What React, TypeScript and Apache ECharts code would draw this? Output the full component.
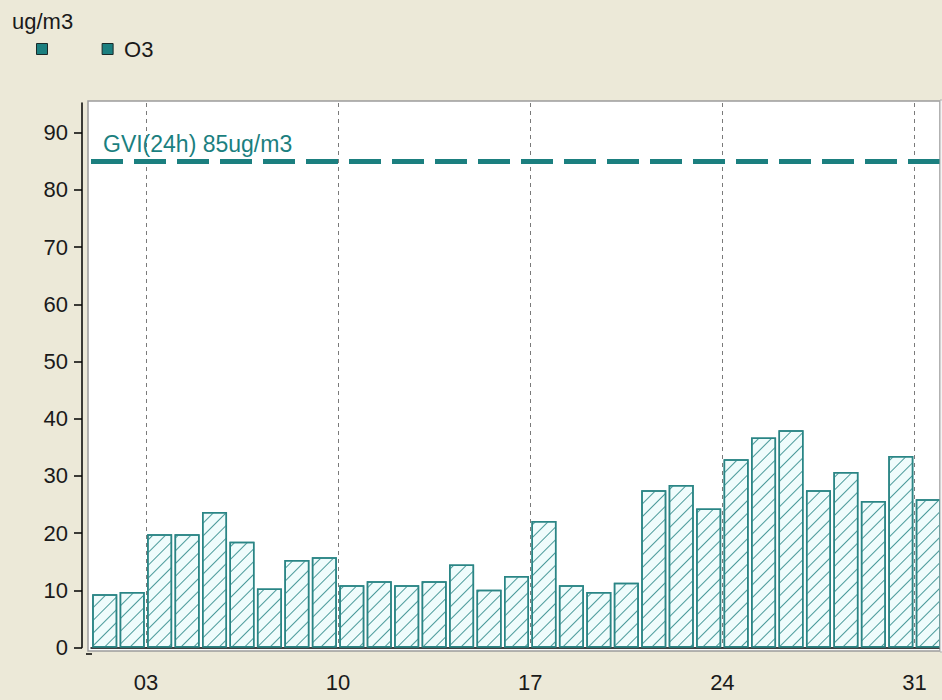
import React, { useEffect, useRef } from "react";
import * as echarts from "echarts";

const days: string[] = [
  "01", "02", "03", "04", "05", "06", "07", "08", "09", "10",
  "11", "12", "13", "14", "15", "16", "17", "18", "19", "20",
  "21", "22", "23", "24", "25", "26", "27", "28", "29", "30", "31",
];

const o3Values: number[] = [
  9.3, 9.7, 19.8, 19.8, 23.7, 18.5, 10.3, 15.3, 15.8, 10.9,
  11.6, 10.9, 11.6, 14.5, 10.1, 12.5, 22.1, 10.9, 9.7, 11.3,
  27.5, 28.4, 24.3, 32.9, 36.7, 38.0, 27.5, 30.7, 25.6, 33.5, 25.9,
];

const gviLimit = 85;
const gviLabel = "GVI(24h) 85ug/m3";
const unitLabel = "ug/m3";
const legendNames: string[] = ["\u00a0", "O3"];

const TEAL = "#1b7f7f";
const FONT = "'Liberation Sans', Arial, sans-serif";

export default function App() {
  const ref = useRef<HTMLDivElement>(null);

  useEffect(() => {
    if (!ref.current) return;
    const chart = echarts.init(ref.current, null, { renderer: "svg" });
    const showIdx = (i: number) => (i - 2) % 7 === 0;
    const option: any = {
      animation: false,
      backgroundColor: "#ece9d8",
      textStyle: { fontFamily: FONT },
      title: {
        text: unitLabel,
        left: 7,
        top: 5,
        textStyle: { fontSize: 22, fontWeight: "normal", color: "#1a1a1a", fontFamily: FONT },
      },
      legend: {
        left: 36,
        top: 38,
        padding: 0,
        icon: "rect",
        itemWidth: 11,
        itemHeight: 11,
        itemGap: 37,
        selectedMode: false,
        textStyle: { fontSize: 22, color: "#1a1a1a", fontFamily: FONT, padding: [0, 0, 0, 6] },
        data: legendNames.map((n) => ({
          name: n,
          itemStyle: { color: TEAL, borderColor: "#1a2a2a", borderWidth: 1, decal: "none" },
        })),
      },
      graphic: [
        {
          type: "rect",
          z: -1,
          shape: { x: 88, y: 101, width: 852, height: 550 },
          style: { fill: "#ffffff", stroke: "#9c9c9c", lineWidth: 1.5 },
        },
        {
          type: "rect",
          z: 100,
          shape: { x: 940, y: 100, width: 4, height: 552 },
          style: { fill: "#f4f4f4", stroke: "#b0b0b0", lineWidth: 1 },
        },
        {
          type: "line",
          z: 50,
          shape: { x1: 86, y1: 654, x2: 92, y2: 654 },
          style: { stroke: "#000", lineWidth: 1.5 },
        },
      ],
      grid: { left: 91, right: -1.5, top: 103, bottom: 52.5 },
      xAxis: {
        type: "category",
        data: days,
        boundaryGap: true,
        offset: 6.5,
        axisLine: { lineStyle: { color: "#000", width: 1.5 } },
        axisTick: {
          interval: (i: number) => i === 0 || showIdx(i),
          length: 8,
          lineStyle: { color: "#000", width: 1.5 },
        },
        axisLabel: {
          interval: (i: number) => showIdx(i),
          padding: [0, 27.5, 0, 0],
          fontSize: 22,
          color: "#1a1a1a",
          margin: 17,
          fontFamily: FONT,
        },
        splitLine: {
          show: true,
          interval: (i: number) => showIdx(i),
          lineStyle: { color: "#7a7a7a", type: [4, 4], width: 1 },
        },
      },
      yAxis: {
        type: "value",
        min: 0,
        max: 95.2,
        interval: 10,
        offset: 9,
        axisLine: { show: true, lineStyle: { color: "#000", width: 1.5 } },
        axisTick: { show: true, length: 8, lineStyle: { color: "#000", width: 1.5 } },
        axisLabel: {
          fontSize: 22,
          color: "#1a1a1a",
          margin: 14,
          showMaxLabel: false,
          fontFamily: FONT,
        },
        splitLine: { show: false },
      },
      series: [
        {
          name: legendNames[0],
          type: "line",
          data: [],
          itemStyle: { color: TEAL },
        },
        {
          name: legendNames[1],
          type: "bar",
          data: o3Values,
          barWidth: 25,
          itemStyle: {
            color: "#effcfc",
            borderColor: "#2a8585",
            borderWidth: 1.5,
            decal: {
              symbol: "rect",
              symbolSize: 1,
              color: "#4a9a9a",
              dashArrayX: [1, 0],
              dashArrayY: [1, 7.5],
              rotation: -Math.PI / 4,
            },
          },
          emphasis: { disabled: true },
          markLine: {
            silent: true,
            symbol: ["none", "none"],
            data: [{ yAxis: gviLimit }],
            lineStyle: { color: TEAL, width: 5, type: [32, 11] },
            label: {
              show: true,
              position: "insideStartTop",
              formatter: gviLabel,
              color: TEAL,
              fontSize: 23,
              fontFamily: FONT,
              distance: [12, 6],
            },
          },
        },
      ],
    };
    chart.setOption(option);
    return () => chart.dispose();
  }, []);

  return (
    <div
      ref={ref}
      style={{ position: "fixed", left: 0, top: 0, width: 942, height: 700 }}
    />
  );
}
